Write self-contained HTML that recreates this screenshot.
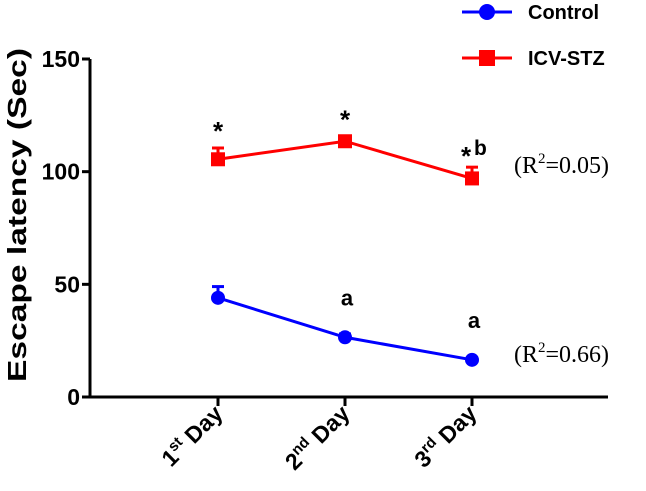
<!DOCTYPE html>
<html><head><meta charset="utf-8"><style>
body{margin:0;background:#fff;}
svg{display:block;font-family:"Liberation Sans",Arial,sans-serif;}
</style></head><body>
<svg id="c" width="646" height="491" viewBox="0 0 646 491"></svg>
<script>
const categories=["1st","2nd","3rd"];
const supers=["st","nd","rd"];
const controlVals=[44,26.5,16.5];
const controlErr=[5,1.5,1];
const stzVals=[105.5,113.5,97];
const stzErr=[5,2,5];
const yTicks=[0,50,100,150];
const stzMarks=["*","*","*"];
const ctrlMarks=["","a","a"];

const NS="http://www.w3.org/2000/svg";
const svg=document.getElementById('c');
function el(t,a,p){const e=document.createElementNS(NS,t);for(const k in a)e.setAttribute(k,a[k]);(p||svg).appendChild(e);return e;}
const y0=397,y1=59,ax=90,axEnd=608;
const yS=v=>y0-(v/150)*(y0-y1);
const xS=i=>218+i*127;

let e;
e=el('line',{x1:ax,y1:y1,x2:ax,y2:y0+1.5,stroke:'#000','stroke-width':3});

e=el('line',{x1:ax-1.5,y1:y0,x2:axEnd,y2:y0,stroke:'#000','stroke-width':3});

yTicks.forEach(v=>{
  const t=el('line',{x1:ax-8,y1:yS(v),x2:ax,y2:yS(v),stroke:'#000','stroke-width':3});
  
  const l=el('text',{x:ax-10,y:yS(v)+8,'text-anchor':'end','font-size':23,'font-weight':'bold'});
  l.textContent=v;
  
});
categories.forEach((c,i)=>{
  const t=el('line',{x1:xS(i),y1:y0,x2:xS(i),y2:y0+9,stroke:'#000','stroke-width':3});
  
  const l=el('text',{transform:`translate(${xS(i)+6},${y0+18}) rotate(-45)`,'text-anchor':'end','font-size':23,'font-weight':'bold'});
  
  const n=c.replace(supers[i],'');
  l.innerHTML=`${n}<tspan font-size="15" dy="-9">${supers[i]}</tspan><tspan dy="9"> Day</tspan>`;
});
const yt=el('text',{transform:'translate(26,215) rotate(-90)','text-anchor':'middle','font-size':26,'font-weight':'bold',textLength:334,lengthAdjust:'spacingAndGlyphs'});
yt.textContent='Escape latency (Sec)';


function series(vals,errs,color,shape,name){
  const g=el('g',{});
  
  el('polyline',{points:vals.map((v,i)=>xS(i)+','+yS(v)).join(' '),fill:'none',stroke:color,'stroke-width':3},g);
  vals.forEach((v,i)=>{
    el('line',{x1:xS(i),y1:yS(v),x2:xS(i),y2:yS(v+errs[i]),stroke:color,'stroke-width':3},g);
    el('line',{x1:xS(i)-6,y1:yS(v+errs[i]),x2:xS(i)+6,y2:yS(v+errs[i]),stroke:color,'stroke-width':3},g);
    let m;
    if(shape==='sq')m=el('rect',{x:xS(i)-7,y:yS(v)-7,width:14,height:14,fill:color},g);
    else m=el('circle',{cx:xS(i),cy:yS(v),r:7,fill:color},g);
    
  });
}
series(controlVals,controlErr,'#0000ff','c','control');
series(stzVals,stzErr,'#ff0000','sq','icv-stz');

stzMarks.forEach((m,i)=>{
  const t=el('text',{x:xS(i)-(i===2?6:0),y:yS(stzVals[i]+stzErr[i])-8+(i===2?6:0),'text-anchor':'middle','font-size':26,'font-weight':'bold'});
  t.textContent=m;
});
const b=el('text',{x:xS(2)+2,y:yS(stzVals[2]+stzErr[2])-12,'font-size':21,'font-weight':'bold'});
b.textContent='b';
ctrlMarks.forEach((m,i)=>{
  if(!m)return;
  const t=el('text',{x:xS(i)+2,y:yS(controlVals[i])-32,'text-anchor':'middle','font-size':22,'font-weight':'bold'});
  t.textContent=m;
});

function r2(y,val){
  const t=el('text',{x:514,y:y,'font-size':24,'font-family':'"Liberation Serif",serif'});
  t.innerHTML=`(R<tspan font-size="15" dy="-10">2</tspan><tspan dy="10">=${val})</tspan>`;
  
}
r2(173,'0.05');r2(362,'0.66');

function legend(y,color,shape,label,name){
  const g=el('g',{});
  
  el('line',{x1:462,y1:y,x2:512,y2:y,stroke:color,'stroke-width':3},g);
  if(shape==='sq')el('rect',{x:479,y:y-8,width:16,height:16,fill:color},g);
  else el('circle',{cx:487,cy:y,r:8,fill:color},g);
  const t=el('text',{x:528,y:y+7,'font-size':20,'font-weight':'bold'},g);
  t.textContent=label;
}
legend(12,'#0000ff','c','Control','control');
legend(58,'#ff0000','sq','ICV-STZ','icv-stz');
</script>
</body></html>
